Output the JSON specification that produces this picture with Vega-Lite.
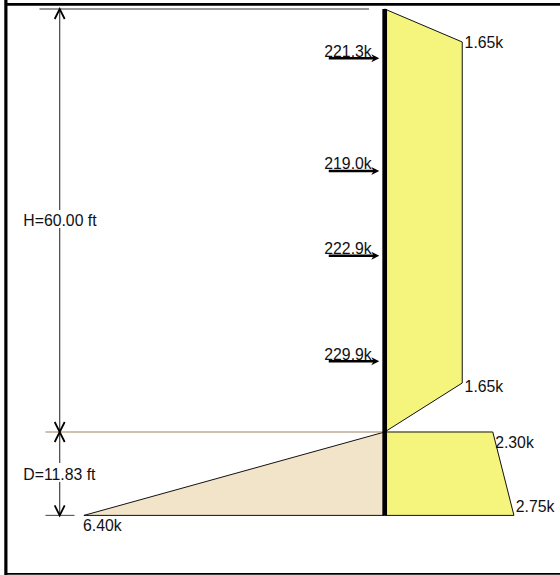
{
"$schema":"https://vega.github.io/schema/vega-lite/v6.json",
"width":560,"height":575,"padding":0,
"autosize":{"type":"none"},
"background":"white",
"view":{"stroke":null},
"config":{"text":{"font":"Liberation Sans","fontSize":15.8,"color":"#111"}},
"datasets":{
"areas":[
{"part":"upper","depth":0,"p":0,"base":0},
{"part":"upper","depth":4.68,"p":1.65,"base":0},
{"part":"upper","depth":53.05,"p":1.65,"base":0},
{"part":"upper","depth":60,"p":0,"base":0},
{"part":"lower","depth":60,"p":2.3,"base":0},
{"part":"lower","depth":71.83,"p":2.75,"base":0},
{"part":"passive","depth":60,"p":0,"base":0},
{"part":"passive","depth":71.83,"p":-6.4,"base":0}],
"outlines":[
{"id":"u","k":1,"p":0,"depth":0},{"id":"u","k":2,"p":1.65,"depth":4.68},{"id":"u","k":3,"p":1.65,"depth":53.05},{"id":"u","k":4,"p":0,"depth":60},
{"id":"l","k":1,"p":0,"depth":60},{"id":"l","k":2,"p":2.3,"depth":60},{"id":"l","k":3,"p":2.75,"depth":71.83},{"id":"l","k":4,"p":0,"depth":71.83},
{"id":"t","k":1,"p":0,"depth":60},{"id":"t","k":2,"p":-6.4,"depth":71.83},{"id":"t","k":3,"p":0,"depth":71.83}],
"guides":[
{"p":-7.345,"p2":-0.334,"d":0,"d2":0,"c":"#333333","w":1.1},
{"p":-7.217,"p2":0,"d":60,"d2":60,"c":"#a0805f","w":1.1},
{"p":-7.217,"p2":-6.6,"d":71.83,"d2":71.83,"c":"#555555","w":1.1},
{"p":-6.915,"p2":-6.915,"d":0,"d2":28.5,"c":"#444444","w":1.2},
{"p":-6.915,"p2":-6.915,"d":31.06,"d2":60,"c":"#444444","w":1.2},
{"p":-6.915,"p2":-6.915,"d":60,"d2":64.4,"c":"#444444","w":1.2},
{"p":-6.915,"p2":-6.915,"d":67.1,"d2":71.83,"c":"#444444","w":1.2},
{"p":0,"p2":0,"d":0,"d2":71.83,"c":"#000000","w":4.7},
{"p":-1.19,"p2":-0.2,"d":6.99,"d2":6.99,"c":"#000000","w":2.6},
{"p":-1.19,"p2":-0.2,"d":22.98,"d2":22.98,"c":"#000000","w":2.6},
{"p":-1.19,"p2":-0.2,"d":34.99,"d2":34.99,"c":"#000000","w":2.6},
{"p":-1.19,"p2":-0.2,"d":49.97,"d2":49.97,"c":"#000000","w":2.6},
{"p":-8.06,"p2":-8.06,"d":-1.28,"d2":80.28,"c":"#000000","w":3.2},
{"p":-8.06,"p2":3.73,"d":-0.65,"d2":-0.65,"c":"#000000","w":2.8},
{"p":-8.06,"p2":3.73,"d":80.13,"d2":80.13,"c":"#000000","w":1.6}],
"dimHeads":[
{"p":-6.915,"depth":0,"a":0},
{"p":-6.915,"depth":60,"a":180},
{"p":-6.915,"depth":60,"a":0},
{"p":-6.915,"depth":71.83,"a":180}],
"forceHeads":[
{"p":-0.115,"depth":6.99},{"p":-0.115,"depth":22.98},{"p":-0.115,"depth":34.99},{"p":-0.115,"depth":49.97}],
"labels":[
{"p":-1.285,"depth":6.8,"t":"221.3k"},
{"p":-1.285,"depth":22.68,"t":"219.0k"},
{"p":-1.285,"depth":34.73,"t":"222.9k"},
{"p":-1.285,"depth":49.73,"t":"229.9k"},
{"p":1.7,"depth":5.58,"t":"1.65k"},
{"p":1.7,"depth":54.28,"t":"1.65k"},
{"p":2.35,"depth":62.2,"t":"2.30k"},
{"p":2.79,"depth":71.33,"t":"2.75k"},
{"p":-6.42,"depth":74.1,"t":"6.40k"},
{"p":-7.69,"depth":30.78,"t":"H=60.00 ft"},
{"p":-7.69,"depth":66.83,"t":"D=11.83 ft"}]
},
"encoding":{
"x":{"type":"quantitative","scale":{"domain":[-8.185,3.73],"nice":false,"zero":false},"axis":null},
"y":{"type":"quantitative","scale":{"domain":[80.284,-1.2766],"nice":false,"zero":false},"axis":null}
},
"layer":[
{"data":{"name":"areas"},"transform":[{"filter":"datum.part=='upper'"}],
"mark":{"type":"area","orient":"horizontal","color":"#f5f57d","opacity":1},
"encoding":{"x":{"field":"p"},"x2":{"field":"base"},"y":{"field":"depth"}}},
{"data":{"name":"areas"},"transform":[{"filter":"datum.part=='lower'"}],
"mark":{"type":"area","orient":"horizontal","color":"#f5f57d","opacity":1},
"encoding":{"x":{"field":"p"},"x2":{"field":"base"},"y":{"field":"depth"}}},
{"data":{"name":"areas"},"transform":[{"filter":"datum.part=='passive'"}],
"mark":{"type":"area","orient":"horizontal","color":"#f2e4c9","opacity":1},
"encoding":{"x":{"field":"p"},"x2":{"field":"base"},"y":{"field":"depth"}}},
{"data":{"name":"outlines"},
"mark":{"type":"line","color":"#111111","strokeWidth":1},
"encoding":{"x":{"field":"p"},"y":{"field":"depth"},"detail":{"field":"id"},"order":{"field":"k"}}},
{"data":{"name":"guides"},
"mark":{"type":"rule"},
"encoding":{"x":{"field":"p"},"x2":{"field":"p2"},"y":{"field":"d"},"y2":{"field":"d2"},
"color":{"field":"c","type":"nominal","scale":null},
"strokeWidth":{"field":"w","type":"quantitative","scale":null}}},
{"data":{"name":"dimHeads"},
"mark":{"type":"point","shape":"M-1,2L0,0L1,2","filled":false,"color":"#000000","size":100,"strokeWidth":1.8,"opacity":1},
"encoding":{"x":{"field":"p"},"y":{"field":"depth"},"angle":{"field":"a","type":"quantitative","scale":null}}},
{"data":{"name":"forceHeads"},
"mark":{"type":"point","shape":"M0,0L-2,-1L-1.4,0L-2,1Z","filled":true,"color":"#000000","size":64,"opacity":1},
"encoding":{"x":{"field":"p"},"y":{"field":"depth"}}},
{"data":{"name":"labels"},
"mark":{"type":"text","align":"left","baseline":"alphabetic"},
"encoding":{"x":{"field":"p"},"y":{"field":"depth"},"text":{"field":"t"}}}
]
}
